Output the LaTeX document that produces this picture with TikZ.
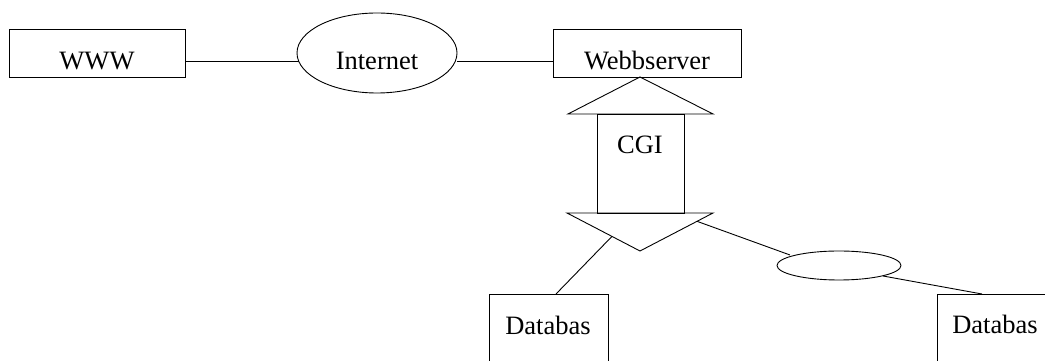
\documentclass[tikz,border=0pt]{standalone}
\usepackage{fontspec}
\setmainfont{Liberation Serif}
\usetikzlibrary{calc,shapes.geometric}
\begin{document}
\begin{tikzpicture}[x=1pt,y=1pt,
  line width=0.9pt,
  box/.style={draw,rectangle,inner sep=0pt,outer sep=0pt},
  oval/.style={draw,ellipse,inner sep=0pt,outer sep=0pt},
  txt/.style={inner sep=0pt,anchor=base,font=\fontsize{26.5}{30}\selectfont}]
\useasboundingbox (0,0) rectangle (1045,361);
\clip (0,0) rectangle (1045,361);
% top row
\node[box,minimum width=176,minimum height=48] (www) at (97,308) {};
\node[txt] (wwwt) at (97,291) {WWW};
\node[oval,minimum width=160,minimum height=80] (inet) at (377,308) {};
\node[txt] (inett) at (377,291) {Internet};
\node[box,minimum width=188,minimum height=48] (web) at (647,308) {};
\node[txt] (webt) at (647,291) {Webbserver};
\draw ([yshift=-8pt]www.east) -- ([yshift=-8pt,xshift=1.5pt]inet.west);
\draw ([yshift=-8pt]inet.east) -- ([yshift=-8pt]web.west);
% CGI double arrow
\coordinate (utip) at ([xshift=-7pt]web.south);
\coordinate (ul) at (568,247);
\coordinate (ur) at (713,247);
\coordinate (dl) at (567,148);
\coordinate (dr) at (713,148);
\coordinate (dtip) at (640,110);
\draw (ul) -- (utip) -- (ur) -- cycle;
\draw (dl) -- (dtip) -- (dr) -- cycle;
\node[box,minimum width=87,minimum height=99] (shaft) at (640.5,197.5) {};
\node[txt] (cgi) at (640,207) {CGI};
% bottom
\node[box,minimum width=119,minimum height=87] (db1) at (548.5,23.5) {};
\node[txt] (db1t) at (548,26) {Databas};
\node[box,minimum width=119,minimum height=87] (db2) at (996.5,23.5) {};
\node[txt] (db2t) at (995,27) {Databas};
\node[oval,minimum width=124,minimum height=29] (sell) at (839,95.5) {};
\coordinate (cl) at ($(dl)!0.616!(dtip)$);
\coordinate (cr) at ($(dr)!0.219!(dtip)$);
\draw (cl) -- ([xshift=7.5pt]db1.north);
\draw (cr) -- ($(sell.center)+(-49,10.5)$);
\draw ($(sell.center)+(44,-10.5)$) -- ([xshift=-14.5pt]db2.north);
\end{tikzpicture}
\end{document}
